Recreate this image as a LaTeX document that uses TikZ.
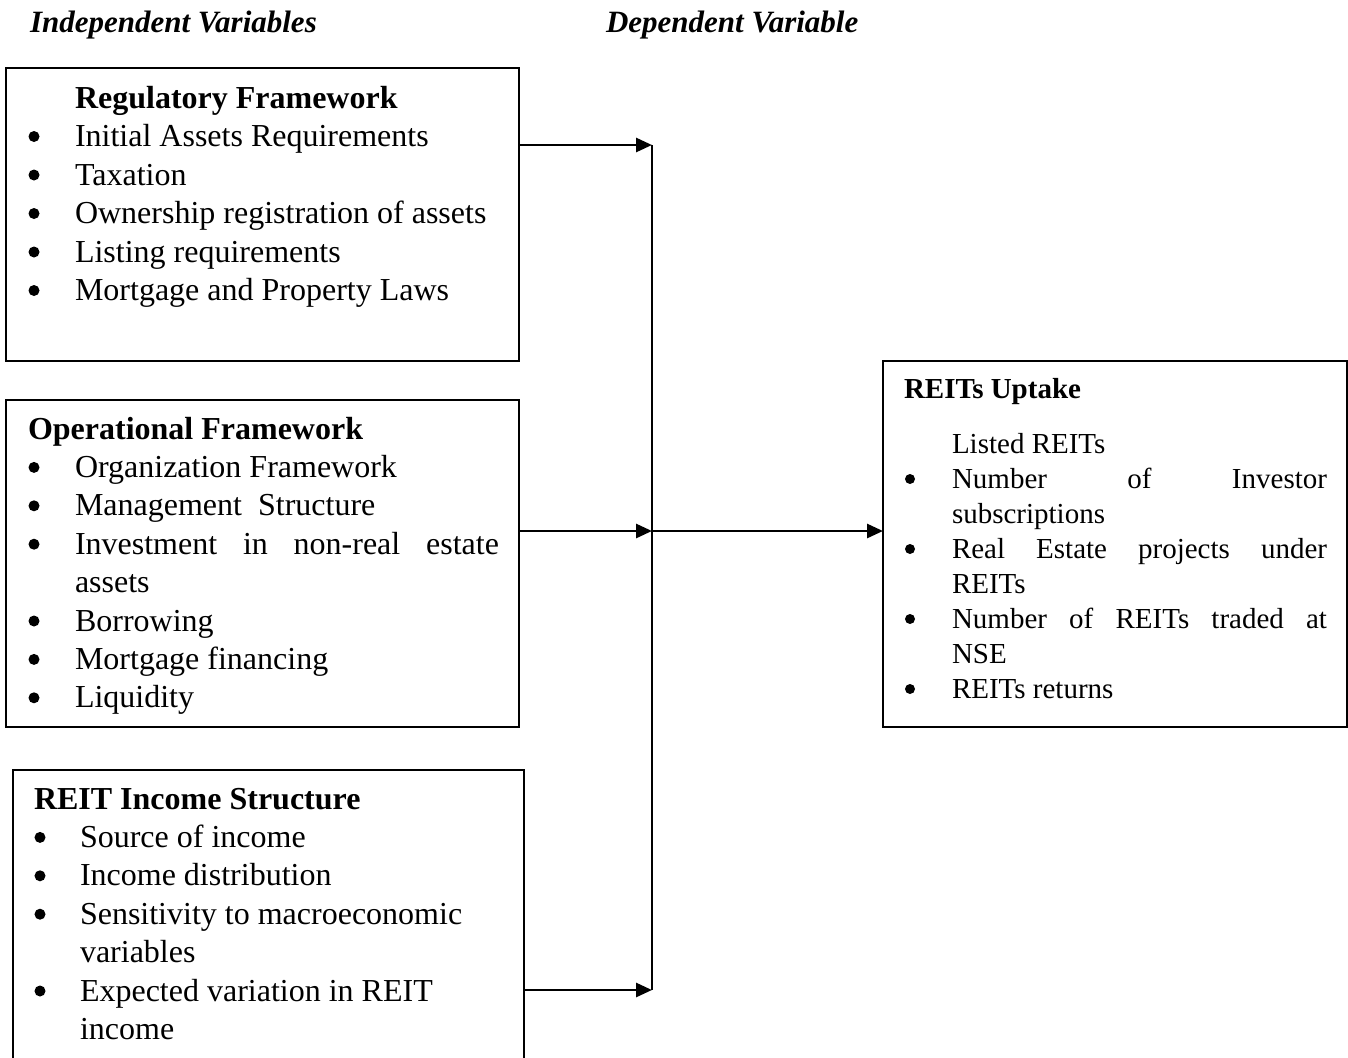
\documentclass[tikz,border=0pt]{standalone}
\usepackage{fontspec}
\setmainfont{Liberation Serif}
\usetikzlibrary{arrows.meta}
\newcommand{\bul}[1][47pt]{\makebox[#1][l]{\hspace{0.5pt}\tikz[baseline=0pt]\fill (5.5pt,10pt) circle[radius=5.5pt];}}
\newcommand{\bulsm}{\makebox[47pt][l]{\hspace{0pt}\tikz[baseline=0pt]\fill (5pt,9pt) circle[radius=5pt];}}
\begin{document}
\begin{tikzpicture}[x=1pt,y=-1pt,
  box/.style={draw, line width=1.8pt, anchor=north west, inner sep=0pt, outer sep=0pt},
  arr/.style={line width=2.8pt, -{Triangle[length=16pt,width=14pt]}},
  link/.style={line width=2pt},
  txt/.style={anchor=base west, inner sep=0pt, outer sep=0pt},
  head/.style={txt, font=\fontsize{31}{37}\selectfont\bfseries\itshape}]
\useasboundingbox (0,0) rectangle (1348,1057);
\clip (0,0) rectangle (1348,1057);

% headings
\node[head] (hind) at (30,33) {Independent Variables};
\node[head] (hdep) at (606,33) {Dependent Variable};

% boxes
\node[box, minimum width=513pt, minimum height=293pt] (b1) at (6,68) {};
\node[box, minimum width=513pt, minimum height=327pt] (b2) at (6,400) {};
\node[box, minimum width=511pt, minimum height=320pt] (b3) at (13,770) {};
\node[box, minimum width=464pt, minimum height=366pt] (b4) at (883,361) {};

% box 1 text
\node[txt] (t1) at (28,108) {\parbox[t]{490pt}{\fontsize{32}{38.5}\selectfont\parindent=0pt\parskip=0pt
\hspace*{47pt}\textbf{Regulatory Framework}\par
\bul Initial Assets Requirements\par
\bul Taxation\par
\bul Ownership registration of assets\par
\bul Listing requirements\par
\bul Mortgage and Property Laws\par}};

% box 2 text
\node[txt] (t2) at (28,439) {\parbox[t]{490pt}{\fontsize{32}{38.4}\selectfont\parindent=0pt\parskip=0pt
\textbf{Operational Framework}\par
\bul Organization Framework\par
\bul Management\ \ Structure\par
\bul \makebox[424pt][s]{Investment in non-real estate}\par
\hspace*{47pt}assets\par
\bul Borrowing\par
\bul Mortgage financing\par
\bul Liquidity\par}};

% box 3 text
\node[txt] (t3) at (34,809) {\parbox[t]{480pt}{\fontsize{32}{38.4}\selectfont\parindent=0pt\parskip=0pt
\textbf{REIT Income Structure}\par
\bul[46pt]Source of income\par
\bul[46pt]Income distribution\par
\bul[46pt]Sensitivity to macroeconomic\par
\hspace*{46pt}variables\par
\bul[46pt]Expected variation in REIT\par
\hspace*{46pt}income\par}};

% box 4 text
\node[txt, font=\fontsize{29}{35}\selectfont\bfseries] (t4h) at (904,398) {REITs Uptake};
\node[txt] (t4) at (905,453) {\parbox[t]{440pt}{\fontsize{29}{35}\selectfont\parindent=0pt\parskip=0pt
\hspace*{47pt}Listed REITs\par
\bulsm \makebox[375pt][s]{Number of Investor}\par
\hspace*{47pt}subscriptions\par
\bulsm \makebox[375pt][s]{Real Estate projects under}\par
\hspace*{47pt}REITs\par
\bulsm \makebox[375pt][s]{Number of REITs traded at}\par
\hspace*{47pt}NSE\par
\bulsm REITs returns\par}};

% connectors
\coordinate (j1) at (652,145);
\coordinate (j2) at (652,531);
\coordinate (j3) at (652,990);
\draw[link] (j1) -- (j3);
\draw[arr] (b1.east |- j1) -- (j1);
\draw[arr] (b2.east |- j2) -- (j2);
\draw[arr] (b3.east |- j3) -- (j3);
\draw[arr] (j2) -- (j2 -| b4.west);
\end{tikzpicture}
\end{document}
